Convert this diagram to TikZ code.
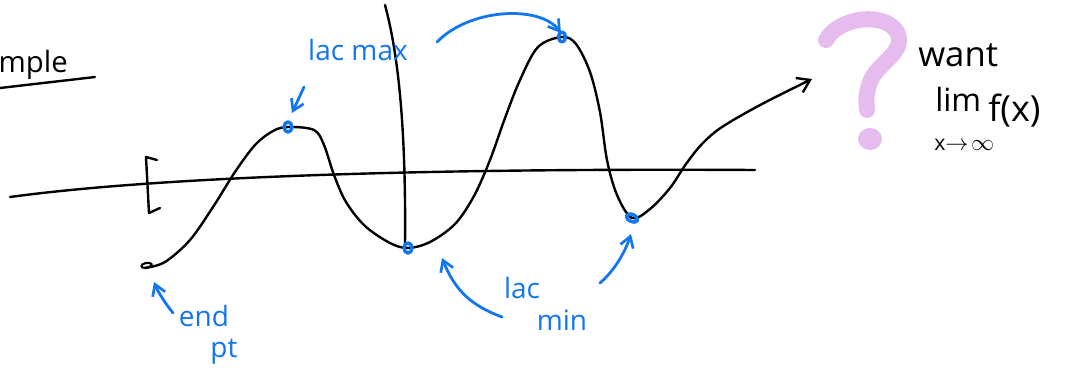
\documentclass[tikz,border=0pt]{standalone}
\usepackage{fontspec}
\setmainfont{Open Sans}
\usetikzlibrary{arrows.meta}
\definecolor{inkblue}{RGB}{18,118,240}
\definecolor{qpink}{RGB}{230,188,238}
\tikzset{
  ink/.style={line width=1.8pt, line cap=round, line join=round, black},
  bink/.style={line width=2.1pt, line cap=round, line join=round, inkblue},
  barrow/.style={bink, -{Straight Barb[length=8pt,width=10pt,line width=2pt]}},
  blbl/.style={inkblue, inner sep=0pt, font=\fontsize{21}{23}\selectfont},
  klbl/.style={black, inner sep=0pt, font=\fontsize{22}{24}\selectfont},
  loopmark/.style={bink, line width=2.6pt},
}
\begin{document}
\begin{tikzpicture}[x=0.75pt,y=-0.75pt]
\useasboundingbox (0,0) rectangle (1076,372);

% key points of the sketched curve
\coordinate (start) at (145,268);
\coordinate (lmax) at (288,127);
\coordinate (lmin1) at (408,248);
\coordinate (peak) at (562,37);
\coordinate (lmin2) at (632,218);
\coordinate (tip) at (812,79);
\coordinate (hA) at (10,197);
\coordinate (hB) at (755,170);
\coordinate (vA) at (385,5);
\coordinate (vB) at (405,245);

% axes
\draw[ink] (hA) .. controls (150,178) and (400,168) .. (hB);
\draw[ink] (vA) .. controls (400,60) and (406,140) .. (vB);

% bracket
\draw[ink] (157,160) -- (146,157) -- (149,213) -- (160,208);

% the function
\draw[ink, -{Straight Barb[length=9pt,width=12pt,line width=1.8pt]}]
  plot[smooth, tension=0.55] coordinates {
  (start) (165,262) (190,240) (213,207) (235,172) (255,145) (273,131) (lmax)
  (314,130) (324,145) (334,175) (346,202) (365,226) (390,243) (lmin1)
  (430,242) (455,224) (474,196) (490,160) (505,118) (520,80) (538,47) (peak)
  (576,44) (590,72) (600,112) (607,160) (617,195) (lmin2)
  (650,209) (670,188) (686,164) (702,144) (722,127) (762,104) (tip)};
\draw[ink, line width=1.6pt] (start) .. controls (140,268) and (140,264) .. (146,263) .. controls (152,262) and (156,266) .. (start);

% example fragment
\node[klbl, anchor=base east] (ex) at (68,72) {mple};
\draw[ink] (0,88) -- (95,77);

% blue markers
\draw[loopmark] (lmax) ellipse (4 and 5);
\draw[loopmark] (lmin1) ellipse (4 and 5);
\draw[loopmark, rotate around={-25:(lmin2)}] (lmin2) ellipse (6 and 3.5);
\draw[loopmark] (peak) ellipse (3.5 and 5);

% labels
\node[blbl] (lacmax) at (358,50) {lac max};
\node[blbl] (end) at (204,316) {end};
\node[blbl] (pt) at (224,352) {pt};
\node[blbl] (lac) at (522,288) {lac};
\node[blbl] (min) at (562,320) {min};

% blue arrows
\coordinate (a1s) at (304,87);
\coordinate (a1e) at (292,113);
\draw[barrow] (a1s) -- (a1e);
\coordinate (a2s) at (437,42);
\coordinate (a2e) at (561,33);
\draw[barrow] (a2s) .. controls (470,8) and (540,5) .. (a2e);
\coordinate (a3s) at (173,313);
\coordinate (a3e) at (154,282);
\draw[barrow] (a3s) .. controls (165,303) and (158,292) .. (a3e);
\coordinate (a4s) at (502,317);
\coordinate (a4e) at (442,258);
\draw[barrow] (a4s) .. controls (470,305) and (455,290) .. (a4e);
\coordinate (a5s) at (600,283);
\coordinate (a5e) at (631,234);
\draw[barrow] (a5s) .. controls (615,270) and (625,252) .. (a5e);

% pink question mark
\draw[qpink, line width=12pt, line cap=round, line join=round]
  (826,40) .. controls (840,16) and (885,12) .. (897,32)
  .. controls (907,52) and (878,62) .. (870,82)
  .. controls (866,94) and (866,100) .. (867,110);
\fill[qpink] (870,139) ellipse (12 and 11);

% right-hand text
\node[klbl, anchor=base west, font=\fontsize{26}{28}\selectfont] (want) at (918,66) {want};
\node[klbl, anchor=base west, font=\fontsize{24}{26}\selectfont] (lim) at (935,111) {lim};
\node[klbl, anchor=base west, font=\fontsize{27}{29}\selectfont] (fx) at (988,121) {f(x)};
\node[black, inner sep=0pt, anchor=base west, font=\fontsize{16}{17}\selectfont] (sub) at (934,150) {x$\to\!\infty$};
\end{tikzpicture}
\end{document}
